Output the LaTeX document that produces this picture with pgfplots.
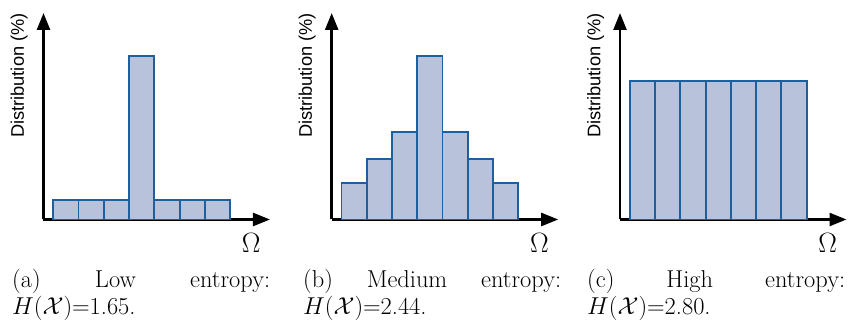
\RequirePackage{fix-cm}
\documentclass[border=0pt]{standalone}
\usepackage{pgfplots}
\pgfplotsset{compat=1.18}
\usepackage{fontspec}
\newfontfamily\arial{Liberation Sans}
\usetikzlibrary{arrows.meta}
\definecolor{barfill}{RGB}{184,194,218}
\definecolor{baredge}{RGB}{30,95,160}
\pgfplotsset{
  entropy/.style={
    scale only axis, width=226.5bp, height=206.5bp,
    anchor=south west,
    xmin=0, xmax=8.97, ymin=0, ymax=206.5,
    enlargelimits=false, clip=false,
    axis x line=bottom, axis y line=left,
    axis line style={line width=2.5bp, black, -{Triangle[length=17bp,width=13bp]}},
    xtick=\empty, ytick=\empty,
    xlabel={$\Omega$},
    xlabel style={at={(axis description cs:0.917,-0.116)}, anchor=center, font=\fontsize{28}{32}\selectfont},
    ylabel={Distribution (\%)},
    ylabel style={at={(axis description cs:-0.108,0.697)}, anchor=center, rotate=0, font=\fontsize{18.3}{20}\arial},
  },
  bars/.style={ybar, bar width=1, bar shift=0pt, fill=barfill, draw=baredge, line width=1.8bp},
}
\begin{document}
\begin{tikzpicture}
\path[use as bounding box] (0,0) rectangle (848bp,322bp);
% (a) low entropy
\begin{axis}[entropy, at={(43.5bp,102.5bp)}]
\addplot[bars] coordinates {(0.89,19.5) (1.89,19.5) (2.89,19.5) (3.89,163.5) (4.89,19.5) (5.89,19.5) (6.89,19.5)};
\end{axis}
% (b) medium entropy
\begin{axis}[entropy, at={(331.7bp,102.5bp)}]
\addplot[bars] coordinates {(0.89,36.8) (1.89,60.8) (2.89,87.8) (3.89,163.5) (4.89,87.8) (5.89,60.8) (6.89,36.8)};
\end{axis}
% (c) high entropy
\begin{axis}[entropy, at={(620bp,102.5bp)}]
\addplot[bars] coordinates {(0.89,138.8) (1.89,138.8) (2.89,138.8) (3.89,138.8) (4.89,138.8) (5.89,138.8) (6.89,138.8)};
\end{axis}
\tikzset{subcap/.style={anchor=north west, inner sep=0pt, text width=258bp, align=left, font=\fontsize{24.5}{25}\selectfont}}
\node[subcap] at (12bp,52.5bp) {\strut(a)\hfill Low\hfill entropy:\\$H(\mathcal{X})$=1.65.};
\node[subcap] at (303bp,52.5bp) {\strut(b)\hfill Medium\hfill entropy:\\$H(\mathcal{X})$=2.44.};
\node[subcap] at (587bp,52.5bp) {\strut(c)\hfill High\hfill entropy:\\$H(\mathcal{X})$=2.80.};
\end{tikzpicture}
\end{document}
